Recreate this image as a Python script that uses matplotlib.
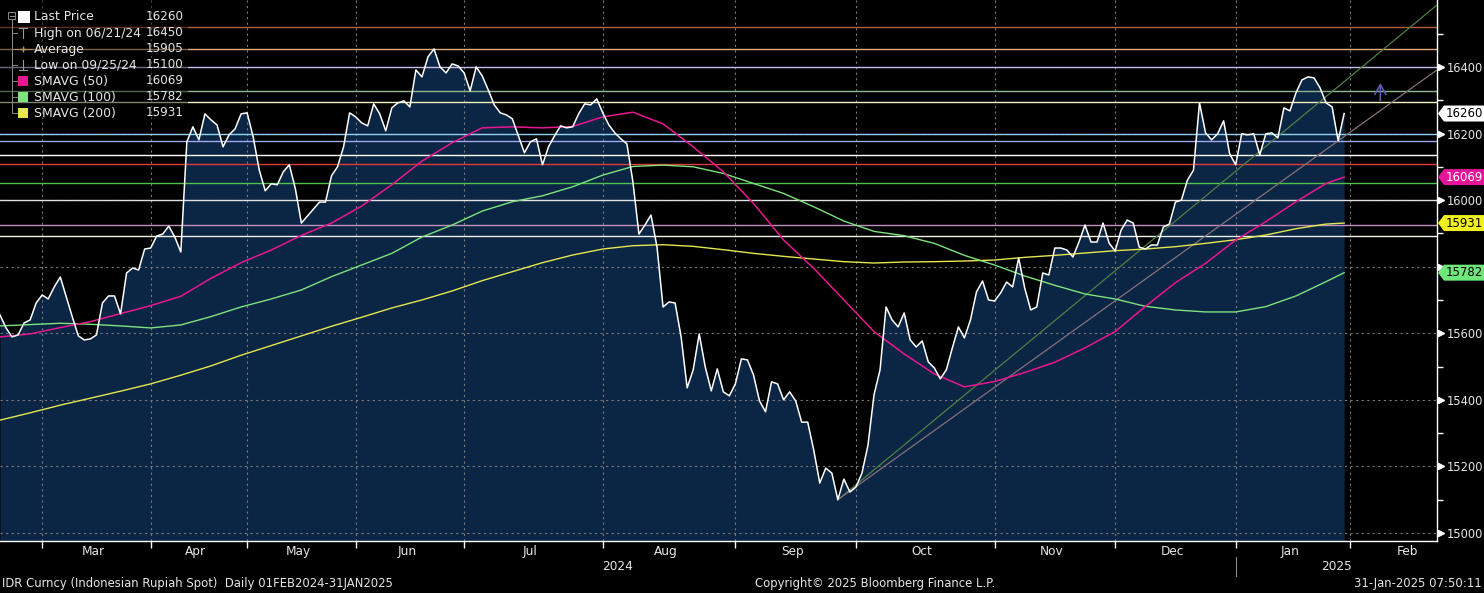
import matplotlib
matplotlib.use("Agg")
import matplotlib.pyplot as plt
import matplotlib.transforms as mtransforms
from matplotlib.lines import Line2D
from matplotlib.patches import Polygon, Rectangle
import numpy as np
import pandas as pd

W, H = 1484, 593

# Indonesian market holidays (the chart runs on a trading-day axis)
holidays = [
    "2024-02-08", "2024-02-09", "2024-02-14", "2024-03-11", "2024-03-12",
    "2024-03-29", "2024-04-08", "2024-04-09", "2024-04-10", "2024-04-11",
    "2024-04-12", "2024-04-15", "2024-05-01", "2024-05-09", "2024-05-10",
    "2024-05-23", "2024-05-24", "2024-06-17", "2024-06-18", "2024-09-16",
    "2024-11-27", "2024-12-25", "2024-12-26", "2025-01-01", "2025-01-27",
    "2025-01-28", "2025-01-29",
]

# USD/IDR daily closes (last one is 31-Jan-2025)
price_feb = [15655, 15616, 15589, 15595, 15631, 15640, 15691]
price_mar = [15715, 15703, 15739, 15769, 15709, 15649, 15592, 15580, 15583,
             15595, 15691, 15712, 15712, 15658, 15781, 15796, 15790, 15853]
price_apr = [15856, 15892, 15898, 15922, 15889, 15844, 16175, 16220, 16181,
             16259, 16241, 16226, 16160, 16196, 16214, 16259]
price_may = [16262, 16190, 16091, 16028, 16049, 16046, 16085, 16106, 16034,
             15931, 15952, 15973, 15994, 15994, 16073, 16100, 16160, 16262]
price_jun = [16250, 16232, 16223, 16289, 16259, 16208, 16277, 16292, 16298,
             16280, 16391, 16370, 16430, 16454, 16400, 16382, 16409, 16403]
price_jul = [16382, 16328, 16400, 16373, 16331, 16286, 16262, 16256, 16244,
             16193, 16142, 16175, 16184, 16106, 16160, 16193, 16223, 16217,
             16220, 16259, 16289, 16286, 16304]
price_aug = [16262, 16226, 16202, 16184, 16169, 16055, 15898, 15925, 15955,
             15859, 15679, 15694, 15691, 15589, 15436, 15490, 15598, 15499,
             15427, 15493, 15424, 15412]
price_sep = [15448, 15523, 15520, 15475, 15397, 15364, 15454, 15448, 15400,
             15424, 15397, 15333, 15333, 15249, 15150, 15195, 15180, 15100,
             15162, 15123]
price_oct = [15138, 15180, 15264, 15415, 15490, 15679, 15640, 15619, 15661,
             15580, 15559, 15577, 15514, 15496, 15463, 15490, 15556, 15619,
             15586, 15640, 15724, 15757, 15700]
price_nov = [15697, 15721, 15754, 15739, 15826, 15736, 15670, 15679, 15781,
             15775, 15856, 15856, 15850, 15829, 15874, 15925, 15874, 15874,
             15931, 15871]
price_dec = [15847, 15910, 15940, 15931, 15859, 15853, 15865, 15865, 15919,
             15928, 15994, 16000, 16060, 16090, 16292, 16202, 16181, 16199,
             16238, 16139]
price_jan = [16106, 16199, 16196, 16199, 16136, 16199, 16202, 16187, 16277,
             16268, 16322, 16361, 16370, 16367, 16337, 16292, 16280, 16178,
             16260]
price = (price_feb + price_mar + price_apr + price_may + price_jun + price_jul
         + price_aug + price_sep + price_oct + price_nov + price_dec + price_jan)

# moving averages, read every 5th trading day plus the last day
ma_every = 5
sma50 = [15589, 15598, 15617, 15635, 15659, 15683, 15711, 15765, 15812, 15850,
         15894, 15931, 15982, 16046, 16117, 16172, 16217, 16220, 16217, 16221,
         16250, 16264, 16229, 16160, 16085, 15990, 15880, 15795, 15700, 15605,
         15538, 15478, 15439, 15455, 15482, 15513, 15556, 15605, 15680, 15752,
         15810, 15880, 15935, 15995, 16050, 16069]
sma100 = [15622, 15626, 15630, 15627, 15622, 15616, 15625, 15650, 15679, 15703,
          15730, 15770, 15805, 15840, 15889, 15925, 15967, 15995, 16013, 16040,
          16075, 16101, 16105, 16100, 16080, 16050, 16020, 15980, 15937, 15906,
          15893, 15870, 15834, 15805, 15772, 15744, 15718, 15703, 15681, 15670,
          15664, 15664, 15680, 15712, 15755, 15782]
sma200 = [15339, 15361, 15384, 15405, 15426, 15448, 15474, 15502, 15534, 15563,
          15592, 15621, 15648, 15676, 15700, 15727, 15758, 15785, 15812, 15835,
          15853, 15863, 15866, 15861, 15851, 15840, 15831, 15823, 15815, 15811,
          15814, 15815, 15817, 15820, 15828, 15834, 15841, 15848, 15853, 15860,
          15870, 15881, 15895, 15914, 15928, 15931]

# horizontal study lines
levels = [16520, 16453, 16400, 16328, 16294, 16200, 16177, 16135, 16107,
          16052, 15999, 15925, 15892]
level_colors = ["#b0603a", "#e0b080", "#c4bce8", "#90b890", "#f0f0c0",
                "#90d0f0", "#a0a8f0", "#ffffff", "#e03a3a", "#50c050",
                "#e0e0e0", "#c090c0", "#f0f0e8"]

# trend lines from the September low to the right edge
trend_end = [16586, 16391]
trend_colors = ["#4f7f45", "#86707a"]

arrow_values = [16290, 16360]

legend_names = ["Last Price", "High on 06/21/24", "Average", "Low on 09/25/24",
                "SMAVG (50)", "SMAVG (100)", "SMAVG (200)"]
legend_values = ["16260", "16450", "15905", "15100", "16069", "15782", "15931"]

C_BG = "#000000"
C_FILL = "#0b2544"
C_50 = "#e8178f"
C_100 = "#7de37d"
C_200 = "#e6e650"
C_TXT = "#e6e6e6"
C_GRID = "#7a7a7a"

# ---- trading day axis
cal = pd.bdate_range("2024-02-01", "2025-02-28", freq="C", holidays=holidays)
end_pos = cal.get_loc(pd.Timestamp("2025-01-31"))
start_pos = end_pos - len(price) + 1
pos = np.arange(len(cal)) - start_pos
x = pos[start_pos:end_pos + 1]
ma_idx = list(range(0, len(price) - 1, ma_every)) + [len(price) - 1]
ma_x = x[ma_idx]

months = pd.Series(pos, index=cal).groupby(cal.to_period("M")).agg(["min", "count"])

ylo, yhi = 14976, 16601
xlo, xhi = 0.0, x[-1] + 15.4

fig = plt.figure(figsize=(W / 100, H / 100), dpi=100, facecolor=C_BG)
ax = fig.add_axes([0, 52 / H, 1437 / W, 541 / H])
ax.set_facecolor(C_BG)

ax.fill_between(x, price, ylo, color=C_FILL, lw=0, zorder=1)

yticks = list(range(15000, 16401, 200))
for v in yticks:
    ax.axhline(v, color=C_GRID, lw=0.8, ls=(0, (2, 3)), zorder=1.5)
month_starts = [m for m in months["min"] if xlo < m < xhi]
for m in month_starts:
    ax.axvline(m, color=C_GRID, lw=0.8, ls=(0, (2, 3)), zorder=1.5)

for v, c in zip(levels, level_colors):
    ax.axhline(v, color=c, lw=1.0, zorder=2)

low_i = int(np.argmin(price))
for v, c in zip(trend_end, trend_colors):
    ax.plot([x[low_i], xhi], [price[low_i], v], color=c, lw=0.9, zorder=3)

ax.plot(ma_x, sma200, color=C_200, lw=1.0, zorder=3.2)
ax.plot(ma_x, sma100, color=C_100, lw=1.0, zorder=3.3)
ax.plot(ma_x, sma50, color=C_50, lw=1.1, zorder=3.4)
ax.plot(x, price, color="white", lw=1.1, zorder=4)

ax.annotate("", xy=(x[-1] + 6, arrow_values[1]), xytext=(x[-1] + 6, arrow_values[0]),
            arrowprops=dict(arrowstyle="->,head_length=0.7,head_width=0.4",
                            color="#5c5cb0", lw=1.2), zorder=4)

ax.set_xlim(xlo, xhi)
ax.set_ylim(ylo, yhi)

# ---- axes look
for s in ["top", "left"]:
    ax.spines[s].set_visible(False)
for s in ["right", "bottom"]:
    ax.spines[s].set_color("white")
    ax.spines[s].set_linewidth(1.0)

# the 15800 label sits under the SMAVG(100) tag in the original
tag_values = [float(legend_values[i]) for i in (0, 4, 6, 5)]
ylabels = [("" if min(abs(v - t) for t in tag_values) < 40 else str(v)) for v in yticks]

ax.yaxis.tick_right()
ax.set_yticks(yticks)
ax.set_yticklabels(ylabels)
ax.set_yticks(list(range(15100, 16600, 200)), minor=True)
ax.tick_params(axis="y", which="major", length=0, pad=7, colors=C_TXT, labelsize=8.3)
ax.tick_params(axis="y", which="minor", length=4, width=1, color="white", direction="out")
tri_tr = mtransforms.blended_transform_factory(ax.transAxes, ax.transData) + \
    mtransforms.ScaledTranslation(3 / 72, 0, fig.dpi_scale_trans)
ax.plot(np.ones(len(yticks)), yticks, ls="none", marker=">", ms=5, color="white",
        transform=tri_tr, clip_on=False)

ax.set_xticks(month_starts)
ax.set_xticklabels([])
mids = [(m + c / 2 - 0.5, p.strftime("%b")) for p, (m, c) in months.iterrows()]
mids = [(v, t) for v, t in mids if xlo < v < xhi]
ax.set_xticks([v for v, _ in mids], minor=True)
ax.set_xticklabels([t for _, t in mids], minor=True)
ax.tick_params(axis="x", which="major", length=5, width=1, color="white", direction="out")
ax.tick_params(axis="x", which="minor", length=0, pad=3, colors=C_TXT, labelsize=8.7)

# year labels below the months
jan_pos = months.loc[pd.Period("2025-01", "M"), "min"]
yr_tr = mtransforms.blended_transform_factory(ax.transData, fig.transFigure)
ax.text((xlo + jan_pos) / 2, 1 - 567 / H, "2024", transform=yr_tr, ha="center",
        va="center", color=C_TXT, fontsize=8.7, clip_on=False)
ax.text((jan_pos + xhi) / 2, 1 - 567 / H, "2025", transform=yr_tr, ha="center",
        va="center", color=C_TXT, fontsize=8.7, clip_on=False)
ax.add_line(Line2D([jan_pos, jan_pos], [1 - 557 / H, 1 - 576 / H], transform=yr_tr,
                   color="#8a8a8a", lw=0.8, clip_on=False))

# ---- value tags on the right
tag_tr = mtransforms.blended_transform_factory(fig.transFigure, ax.transData)
half = 8 * (yhi - ylo) / 541
tags = [(tag_values[0], "#ffffff", "black"),
        (tag_values[1], "#e6149b", "white"),
        (tag_values[2], "#f0f020", "black"),
        (tag_values[3], "#6ee87a", "black")]
for v, face, tc in tags:
    pts = [(1438 / W, v), (1444 / W, v + half), (1.0, v + half),
           (1.0, v - half), (1444 / W, v - half)]
    ax.add_patch(Polygon(pts, closed=True, transform=tag_tr, facecolor=face,
                         edgecolor="none", zorder=10, clip_on=False))
    ax.text(1464 / W, v, f"{v:.0f}", transform=tag_tr, ha="center", va="center",
            color=tc, fontsize=8.5, zorder=11, clip_on=False)


# ---- legend block, top left
def fx(px):
    return px / W


def fy(py):
    return 1 - py / H


fig.add_artist(Rectangle((0, fy(121)), fx(188), 121 / H, transform=fig.transFigure,
                         facecolor="black", alpha=0.45, edgecolor="none", zorder=5))
tree = "#8a8a8a"
fig.add_artist(Rectangle((fx(8), fy(19)), fx(7), 7 / H, transform=fig.transFigure,
                         facecolor="none", edgecolor=tree, lw=0.7, zorder=6))
fig.add_artist(Line2D([fx(9.5), fx(13.5)], [fy(15.5), fy(15.5)], color=tree, lw=0.7, zorder=6))
fig.add_artist(Line2D([fx(11.5), fx(11.5)], [fy(20), fy(113)], color=tree, lw=0.7, zorder=6))

row_y = [17 + 16 * i for i in range(len(legend_names))]
for i, (name, val) in enumerate(zip(legend_names, legend_values)):
    yy = row_y[i]
    if i > 0:
        fig.add_artist(Line2D([fx(11.5), fx(17)], [fy(yy), fy(yy)], color=tree, lw=0.7, zorder=6))
    fig.text(fx(34), fy(yy), name, color=C_TXT, fontsize=8.9, va="center", ha="left", zorder=7)
    fig.text(fx(146), fy(yy), val, color=C_TXT, fontsize=8.6, va="center", ha="left", zorder=7)

sq = [(0, "white", 12), (4, C_50, 10), (5, C_100, 10), (6, C_200, 10)]
for i, c, s in sq:
    yy = row_y[i]
    fig.add_artist(Rectangle((fx(18), fy(yy + s / 2)), fx(s), s / H, transform=fig.transFigure,
                             facecolor=c, edgecolor="none", zorder=7))
mk = "#9a9a9a"
fig.add_artist(Line2D([fx(19), fx(27)], [fy(28), fy(28)], color=mk, lw=0.8, zorder=7))
fig.add_artist(Line2D([fx(23), fx(23)], [fy(28), fy(38)], color=mk, lw=0.8, zorder=7))
fig.add_artist(Line2D([fx(15), fx(32)], [fy(49), fy(49)], color="#b09060", lw=0.8, zorder=7))
fig.add_artist(Line2D([fx(23)], [fy(49)], marker="+", ms=5, color="#b09060", zorder=7))
fig.add_artist(Line2D([fx(23), fx(23)], [fy(60), fy(70)], color=mk, lw=0.8, zorder=7))
fig.add_artist(Line2D([fx(19), fx(27)], [fy(70), fy(70)], color=mk, lw=0.8, zorder=7))

# ---- footer
fig.text(fx(2), fy(584), "IDR Curncy (Indonesian Rupiah Spot)  Daily 01FEB2024-31JAN2025",
         color=C_TXT, fontsize=8.4, va="center", ha="left")
fig.text(fx(755), fy(584), "Copyright\u00a9 2025 Bloomberg Finance L.P.",
         color=C_TXT, fontsize=8.4, va="center", ha="left")
fig.text(fx(1482), fy(584), "31-Jan-2025 07:50:11",
         color=C_TXT, fontsize=8.4, va="center", ha="right")

fig.savefig("out.png", dpi=100, facecolor=C_BG)
